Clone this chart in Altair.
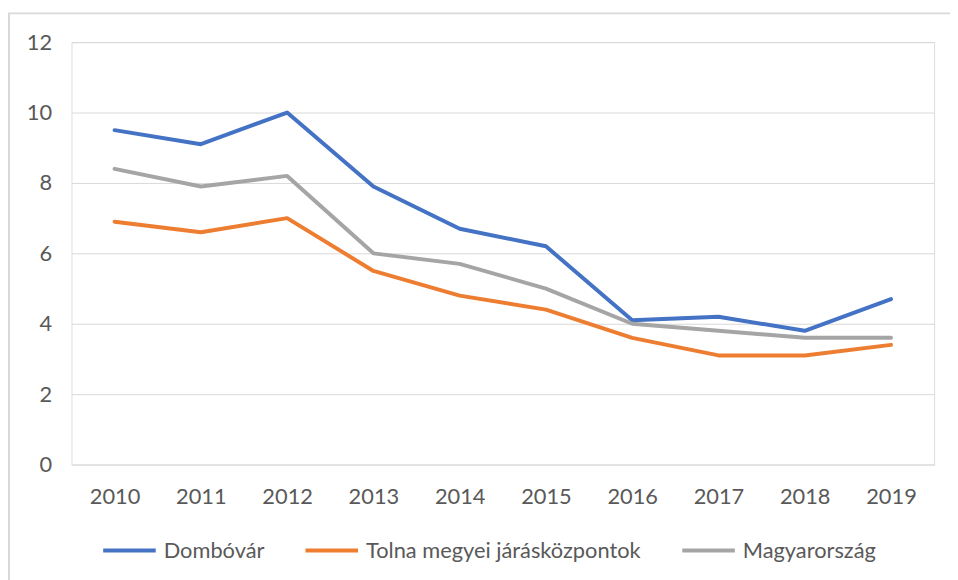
import altair as alt
import pandas as pd

years = ["2010", "2011", "2012", "2013", "2014", "2015", "2016", "2017", "2018", "2019"]
series_names = ["Dombóvár", "Tolna megyei járásközpontok", "Magyarország"]
dombovar = [9.5, 9.1, 10.0, 7.9, 6.7, 6.2, 4.1, 4.2, 3.8, 4.7]
tolna = [6.9, 6.6, 7.0, 5.5, 4.8, 4.4, 3.6, 3.1, 3.1, 3.4]
magyar = [8.4, 7.9, 8.2, 6.0, 5.7, 5.0, 4.0, 3.8, 3.6, 3.6]
colors = ["#4472C4", "#ED7D31", "#A5A5A5"]
y_ticks = [0, 2, 4, 6, 8, 10, 12]

rows = []
for name, vals in zip(series_names, [dombovar, tolna, magyar]):
    for yr, v in zip(years, vals):
        rows.append({"Év": yr, "Érték": v, "Sorozat": name})
df = pd.DataFrame(rows)

FONT = "Lato"
TXT = "#595959"
FS = 22

lines = alt.Chart(df).mark_line(strokeWidth=4, strokeCap="round", strokeJoin="round").encode(
    x=alt.X("Év:N", sort=years, scale=alt.Scale(type="point", padding=0.5),
            axis=alt.Axis(title=None, labelAngle=0, domain=False, ticks=False,
                          labelPadding=22, labelFontSize=FS, labelColor=TXT, labelFont=FONT, grid=False)),
    y=alt.Y("Érték:Q", scale=alt.Scale(domain=[0, 12], nice=False),
            axis=alt.Axis(title=None, values=y_ticks, domain=False, ticks=False,
                          labelPadding=20, labelFontSize=FS, labelColor=TXT, labelFont=FONT,
                          gridColor="#D9D9D9", gridWidth=1)),
    color=alt.Color("Sorozat:N", sort=series_names,
                    scale=alt.Scale(domain=series_names, range=colors),
                    legend=alt.Legend(title=None, orient="none", direction="horizontal",
                                      legendX=30, legendY=484,
                                      symbolType="stroke", symbolSize=2809, symbolStrokeWidth=4,
                                      labelFontSize=FS, labelColor=TXT, labelFont=FONT,
                                      labelLimit=400, labelOffset=6, columnPadding=33)),
    order=alt.Order("Év:N"),
)

border = alt.Chart(pd.DataFrame({"b": [0]})).mark_rect(fill=None, stroke="#D9D9D9", strokeWidth=2).encode(
    x=alt.value(-63), x2=alt.value(1000), y=alt.value(-29), y2=alt.value(700)
)

chart = alt.layer(border, lines).properties(
    width=870, height=426,
    autosize=alt.AutoSizeParams(type="none"),
    padding={"left": 64, "top": 32, "right": 16, "bottom": 114},
).configure_view(stroke="transparent", strokeWidth=0).configure(font=FONT)

chart.save("out.html", embed_options={"renderer": "svg", "actions": False})
